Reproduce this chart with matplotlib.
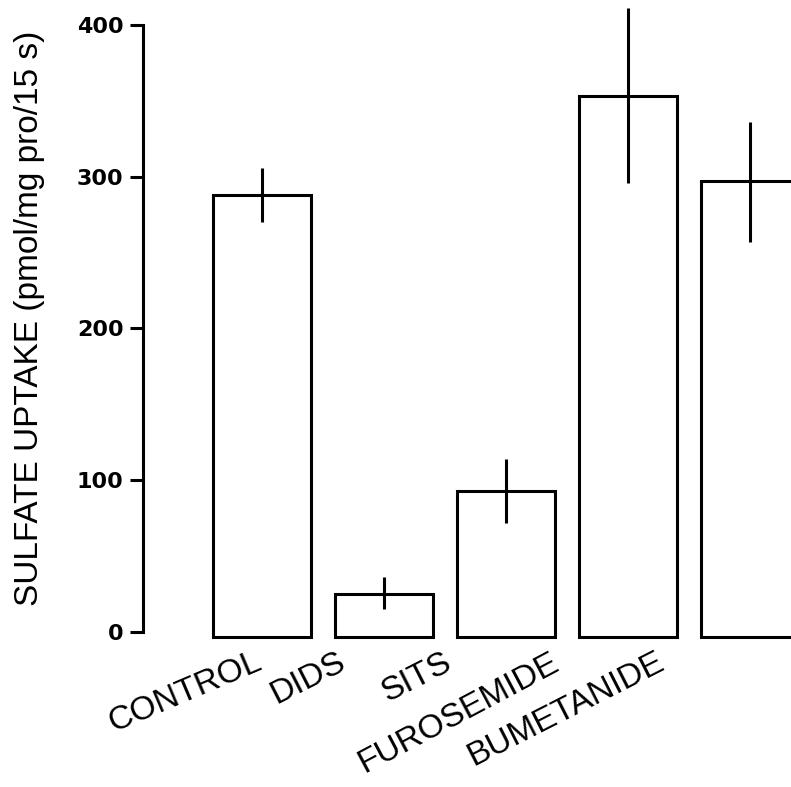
import matplotlib
matplotlib.use("Agg")
import matplotlib.pyplot as plt
from matplotlib import font_manager
import matplotlib.transforms as mtransforms

# sulfate uptake per treatment
treatments = ["CONTROL", "DIDS", "SITS", "FUROSEMIDE", "BUMETANIDE"]
uptake = [288, 25, 93, 353, 297]
err_hi = [306, 36, 114, 411, 336]
err_lo = [270, 15, 72, 296, 257]

yticks = [0, 100, 200, 300, 400]
# label anchors are hand-placed in the original, not centred under bars
label_x = [0.01, 0.70, 1.57, 2.45, 3.31]
label_rot = [23, 27, 27, 28, 27]

names = {f.name for f in font_manager.fontManager.ttflist}
text_font = "Liberation Sans Narrow" if "Liberation Sans Narrow" in names else "Liberation Sans"

W, H = 791, 787
fig = plt.figure(figsize=(W / 100, H / 100), dpi=100)
ax = fig.add_axes([143 / W, (H - 645) / H, (W - 143) / W, 645 / H])

x = list(range(len(treatments)))
base = -3
ax.bar(x, [v - base for v in uptake], bottom=base, width=0.8,
       facecolor="white", edgecolor="black", linewidth=2.2, zorder=2)
ax.vlines(x, err_lo, err_hi, color="black", linewidth=2.2, zorder=3)

ax.set_xlim(-0.975, 4.336)
ax.set_ylim(-8.6, 416.5)

for s in ["top", "right", "bottom"]:
    ax.spines[s].set_visible(False)
ax.spines["left"].set_bounds(0, 400)
ax.spines["left"].set_linewidth(2.2)

ax.set_xticks([])
ax.set_yticks(yticks)
ax.tick_params(axis="y", direction="out", length=9.5, width=2.2, pad=4.5)
for lbl in ax.get_yticklabels():
    lbl.set_fontfamily("DejaVu Sans")
    lbl.set_fontweight("bold")
    lbl.set_fontsize(16)

trans = mtransforms.blended_transform_factory(ax.transData, ax.transAxes)
for name, lx, rot in zip(treatments, label_x, label_rot):
    ax.text(lx, -0.036, name, transform=trans, rotation=rot, rotation_mode="anchor",
            ha="right", va="baseline", fontsize=24, family=[text_font, "DejaVu Sans"])

fig.text(30 / W, 1 - 318 / H, "SULFATE UPTAKE (pmol/mg pro/15 s)", rotation=90,
         ha="center", va="center", fontsize=24, family=[text_font, "DejaVu Sans"])

fig.savefig("out.png", dpi=100, facecolor="white")
